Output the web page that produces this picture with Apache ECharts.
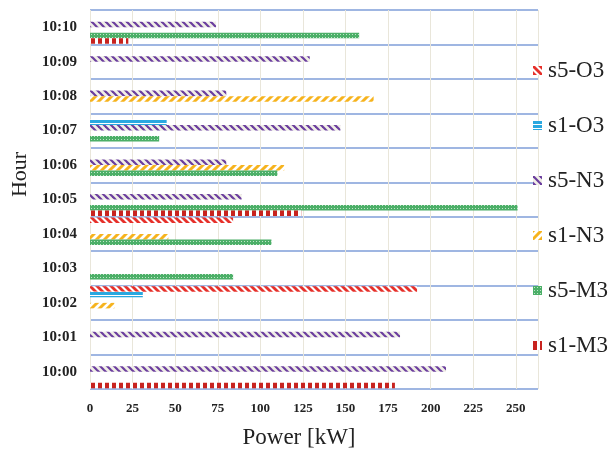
<!DOCTYPE html>
<html><head><meta charset="utf-8">
<script src="https://cdn.jsdelivr.net/npm/echarts@6/dist/echarts.min.js"></script>
<style>html,body{margin:0;padding:0;background:#fff}#c{width:614px;height:449px}</style>
</head><body><div id="c"></div>
<script>
var categories = ['10:00','10:01','10:02','10:03','10:04','10:05','10:06','10:07','10:08','10:09','10:10'];
var xTicks = [0,25,50,75,100,125,150,175,200,225,250];
var s1M3 = [179, 0, 0, 0, 0, 124, 0, 0, 0, 0, 22.5];
var s5M3 = [0, 0, 0, 84, 106.5, 251, 110, 40.6, 0, 0, 158];
var s1N3 = [0, 0, 14.3, 0, 46, 0, 114, 0, 166.5, 0, 0];
var s5N3 = [209, 182, 0, 0, 0, 89, 80, 147, 80, 129, 74];
var s1O3 = [0, 0, 31, 0, 0, 0, 0, 45, 0, 0, 0];
var s5O3 = [0, 0, 192, 0, 84, 0, 0, 0, 0, 0, 0];
var legendOrder = ['s5-O3','s1-O3','s5-N3','s1-N3','s5-M3','s1-M3'];

function pat(w, h, draw) {
  var c = document.createElement('canvas'); c.width = w; c.height = h;
  var g = c.getContext('2d'); draw(g, w, h);
  return { image: c, repeat: 'repeat' };
}
function diag(g, w, h, col, lw, back) {
  g.strokeStyle = col; g.lineWidth = lw; g.lineCap = 'square';
  for (var k = -1; k <= 1; k++) {
    g.beginPath();
    if (back) { g.moveTo(k * w, 0); g.lineTo(k * w + w, h); }
    else { g.moveTo(k * w, h); g.lineTo(k * w + w, 0); }
    g.stroke();
  }
}
var pRedV = pat(7, 4, function (g) { g.fillStyle = '#fff'; g.fillRect(0,0,7,4); g.fillStyle = '#c8231f'; g.fillRect(0,0,4,4); });
var pGreen = pat(3, 3, function (g) { g.fillStyle = '#4caf68'; g.fillRect(0,0,3,3); g.fillStyle = '#c0e6c9'; g.fillRect(1,1,1,1); });
var pOrange = pat(8, 8, function (g) { g.fillStyle = '#fff'; g.fillRect(0,0,8,8); diag(g, 8, 8, '#f6b31d', 3, false); });
var pPurple = pat(7, 7, function (g) { g.fillStyle = '#f1efe6'; g.fillRect(0,0,7,7); diag(g, 7, 7, '#6a3d9e', 2.2, true); });
var pBlue = pat(4, 4, function (g) { g.fillStyle = '#fff'; g.fillRect(0,0,4,4); g.fillStyle = '#2aa8e0'; g.fillRect(0,0,4,3); });
var pRedD = pat(7, 7, function (g) { g.fillStyle = '#fff'; g.fillRect(0,0,7,7); diag(g, 7, 7, '#e6302a', 2.8, true); });

function ser(name, data, color) {
  return { name: name, type: 'bar', data: data.map(function (v) { return v > 0 ? v : '-'; }),
    barGap: '0%', barCategoryGap: '4%', itemStyle: { color: color } };
}
var serif = '"Liberation Serif", "DejaVu Serif", serif';
var chart = echarts.init(document.getElementById('c'));
chart.setOption({
  animation: false,
  backgroundColor: '#fff',
  grid: { left: 90, right: 76, top: 10, bottom: 60, containLabel: false, outerBoundsMode: 'none' },
  legend: {
    orient: 'vertical', left: 528, top: 54, itemGap: 32, itemWidth: 9, itemHeight: 9,
    data: legendOrder, icon: 'rect',
    textStyle: { fontFamily: serif, fontSize: 23, color: '#222', padding: [0,0,0,1] }
  },
  xAxis: {
    type: 'value', min: 0, max: 263, interval: 25,
    name: 'Power [kW]', nameLocation: 'middle', nameGap: 37,
    nameTextStyle: { fontFamily: serif, fontSize: 23, color: '#222', padding: [0, 30, 0, 0] },
    axisLine: { show: false }, axisTick: { show: false },
    axisLabel: { fontFamily: serif, fontWeight: 'bold', fontSize: 13, color: '#222', margin: 13, showMaxLabel: false,
      formatter: function (v) { return xTicks.indexOf(v) >= 0 ? String(v) : ''; } },
    splitLine: { show: true, lineStyle: { color: '#e9e6da', width: 1 } }
  },
  yAxis: {
    type: 'category', data: categories,
    name: 'Hour', nameLocation: 'middle', nameGap: 58, nameRotate: 90,
    nameTextStyle: { fontFamily: serif, fontSize: 22, color: '#222', padding: [0, 0, 0, 50] },
    axisLine: { show: false }, axisTick: { show: false },
    axisLabel: { fontFamily: serif, fontWeight: 'bold', fontSize: 15, color: '#222', margin: 13 },
    splitLine: { show: true, lineStyle: { color: '#7f9ed9', width: 1.5 } }
  },
  series: [
    ser('s5-O3', s5O3, pRedD),
    ser('s1-O3', s1O3, pBlue),
    ser('s5-N3', s5N3, pPurple),
    ser('s1-N3', s1N3, pOrange),
    ser('s5-M3', s5M3, pGreen),
    ser('s1-M3', s1M3, pRedV)
  ]
});
</script></body></html>
